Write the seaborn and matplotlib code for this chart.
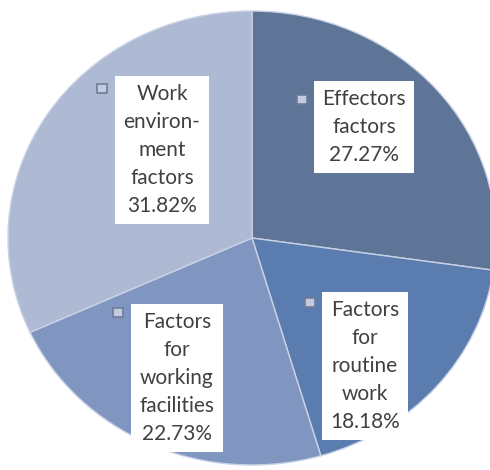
import matplotlib
matplotlib.use("Agg")
import matplotlib.pyplot as plt
import seaborn as sns
from matplotlib.patches import Rectangle

# Data
categories = ["Effectors\nfactors", "Factors\nfor\nroutine\nwork",
              "Factors\nfor\nworking\nfacilities", "Work\nenviron-\nment\nfactors"]
shares = [27.27, 18.18, 22.73, 31.82]
colors = ["#5f7598", "#5a7caf", "#8096c0", "#aeb9d3"]

sns.set_theme(style="white")
plt.rcParams['font.family'] = ['Lato', 'DejaVu Sans']

W, H = 490, 470
fig = plt.figure(figsize=(W / 100, H / 100), dpi=100)
ax = fig.add_axes([0, 0, 1, 1])

# pie centre/radius in pixels (slightly squashed ellipse)
cx, cy, rx, ry = 252, 238, 244, 227

ax.pie(shares, colors=colors, startangle=90, counterclock=False,
       wedgeprops=dict(edgecolor="#c9d2e6", linewidth=1))
ax.set_aspect('auto')
ax.set_xlim(-cx / rx, (W - cx) / rx)
ax.set_ylim(-(H - cy) / ry, cy / ry)
ax.axis('off')

# label boxes: centre (px) and legend-key position (px)
label_pos = [(364, 127), (365, 366), (177, 378), (162, 150)]
key_pos = [(297, 95), (305, 298), (113, 308), (97, 84)]

for name, val, col, (lx, ly), (kx, ky) in zip(categories, shares, colors, label_pos, key_pos):
    fig.text(lx / W, 1 - ly / H, f"{name}\n{val:.2f}%", ha='center', va='center',
             fontsize=15, color="#404040", linespacing=1.5,
             bbox=dict(boxstyle='square,pad=0.4', fc='white', ec='none'))
    fig.add_artist(Rectangle((kx / W, 1 - (ky + 9) / H), 10 / W, 9 / H,
                             transform=fig.transFigure, fc="#c3cbe0", ec="#6f7c98", lw=1.2))

fig.savefig("out.png", dpi=100, facecolor="white")
